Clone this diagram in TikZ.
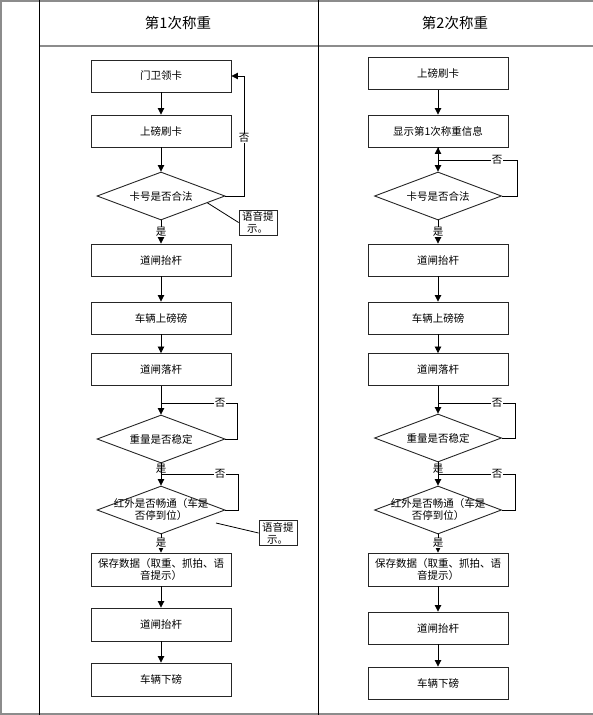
\documentclass[tikz,border=0pt]{standalone}
\usepackage{fontspec}
\setmainfont{Noto Sans CJK SC}
\usetikzlibrary{arrows.meta,shapes.geometric,calc}
\newcommand{\fsz}{\fontsize{10.5}{12}\selectfont}
\newcommand{\hsz}{\fontsize{14.5}{16}\selectfont}
\begin{document}
\begin{tikzpicture}[x=1pt,y=-1pt,
  box/.style={draw=black!85, line width=0.9pt, minimum width=140pt, minimum height=32pt, inner sep=1pt, font=\fsz, align=center},
  dia/.style={draw=black!85, line width=0.9pt, shape=diamond, minimum width=128pt, minimum height=48pt, inner sep=0pt},
  dtext/.style={font=\fsz, align=center, inner sep=0pt},
  callout/.style={draw=black!85, line width=0.8pt, font=\fsz, align=left, text width=32pt, inner xsep=3pt, inner ysep=1pt, minimum height=25pt},
  arr/.style={-{Triangle[length=6.5pt,width=6.5pt]}, line width=0.8pt},
  ln/.style={line width=0.8pt},
  lbl/.style={font=\fsz, fill=white, inner sep=0.5pt},
  frame/.style={draw=black!45, line width=1.6pt},
  divider/.style={draw=black, line width=1pt},
  hdr/.style={font=\hsz, inner sep=0pt}]
\useasboundingbox (0,0) rectangle (593,715);
% frame
\draw[frame] (0,1) -- (593,1);
\draw[frame] (1,0) -- (1,715);
\draw[frame] (0,714) -- (593,714);
\draw[frame] (39,46) -- (593,46);
\draw[divider] (39,0) -- (39,715);
\draw[divider] (318,0) -- (318,715);
\node[hdr] (H1) at (178,23) {第1次称重};
\node[hdr] (H2) at (455,23) {第2次称重};
% left column
\node[box] (L1) at (161,76) {门卫领卡};
\node[box] (L2) at (161,131) {上磅刷卡};
\node[dia] (LD1) at (161,196) {};
\node[dtext] at (LD1) {卡号是否合法};
\node[box] (L3) at (161,260) {道闸抬杆};
\node[box] (L4) at (161,318) {车辆上磅磅};
\node[box] (L5) at (161,369.5) {道闸落杆};
\node[dia] (LD2) at (161,439) {};
\node[dtext] at (LD2) {重量是否稳定};
\node[dia] (LD3) at (161,510) {};
\node[dtext] at (LD3) {红外是否畅通（车是\\否停到位）};
\node[box, minimum height=33pt] (L6) at (161,569.5) {保存数据（取重、抓拍、语\\音提示）};
\node[box, minimum height=33pt] (L7) at (161,624.5) {道闸抬杆};
\node[box, minimum height=33pt] (L8) at (161,679.5) {车辆下磅};
\node[callout] (C1) at (258,222.5) {语音提\\\hspace*{5pt}示。};
\node[callout] (C2) at (278,533) {语音提\\\hspace*{5pt}示。};
\coordinate (c2s) at (216,523);
\coordinate (m2) at (161,403);
\coordinate (m3) at (161,474);
\draw[arr] (L1) -- (L2);
\draw[arr] (L2) -- (LD1);
\draw[arr] (LD1) -- node[lbl]{是} (L3);
\draw[arr] (L3) -- (L4);
\draw[arr] (L4) -- (L5);
\draw[arr] (L5) -- (LD2);
\draw[arr] (LD2) -- (LD3);
\draw[arr] (LD3) -- (L6);
\draw[arr] (L6) -- (L7);
\draw[arr] (L7) -- (L8);
\draw[arr] (LD1.east) -- ++(19,0) |- (L1.east);
\node[lbl] at (244,138) {否};
\draw[ln] (LD2.east) -- ++(12,0) |- (m2);
\node[lbl] at (220,403) {否};
\draw[ln] (LD3.east) -- ++(13,0) |- (m3);
\node[lbl] at (220,474) {否};
\node[font=\fsz, inner sep=0pt] at (161,469) {是};
\node[lbl] at (161,543) {是};
\draw[ln] ($(LD1.east)!0.28!(LD1.south)$) -- (C1.west);
\draw[ln] (c2s) -- (C2.west);
% right column
\node[box] (R1) at (438,73.5) {上磅刷卡};
\node[box] (R2) at (438,131) {显示第1次称重信息};
\node[dia, minimum width=127pt] (RD1) at (438,196) {};
\node[dtext] at (RD1) {卡号是否合法};
\node[box] (R3) at (438,260) {道闸抬杆};
\node[box] (R4) at (438,318) {车辆上磅磅};
\node[box] (R5) at (438,369.5) {道闸落杆};
\node[dia, minimum width=127pt] (RD2) at (438,438) {};
\node[dtext] at (RD2) {重量是否稳定};
\node[dia, minimum width=127pt] (RD3) at (438,510) {};
\node[dtext] at (RD3) {红外是否畅通（车是\\否停到位）};
\node[box, minimum height=33pt] (R6) at (438,569.5) {保存数据（取重、抓拍、语\\音提示）};
\node[box] (R7) at (438,628) {道闸抬杆};
\node[box] (R8) at (438,683) {车辆下磅};
\coordinate (n1) at (438,160);
\coordinate (n2) at (438,403);
\coordinate (n3) at (438,474);
\draw[arr] (R1) -- (R2);
\draw[arr] (R2) -- (RD1);
\draw[arr] (RD1) -- node[lbl]{是} (R3);
\draw[arr] (R3) -- (R4);
\draw[arr] (R4) -- (R5);
\draw[arr] (R5) -- (RD2);
\draw[arr] (RD2) -- (RD3);
\draw[arr] (RD3) -- (R6);
\draw[arr] (R6) -- (R7);
\draw[arr] (R7) -- (R8);
\draw[arr] (RD1.east) -- ++(15,0) |- (n1) -- (R2.south);
\node[lbl] at (497,160) {否};
\draw[ln] (RD2.east) -- ++(13,0) |- (n2);
\node[lbl] at (497,403) {否};
\draw[ln] (RD3.east) -- ++(13,0) |- (n3);
\node[lbl] at (497,474) {否};
\node[font=\fsz, inner sep=0pt] at (438,469) {是};
\node[lbl] at (438,543) {是};
\end{tikzpicture}
\end{document}
